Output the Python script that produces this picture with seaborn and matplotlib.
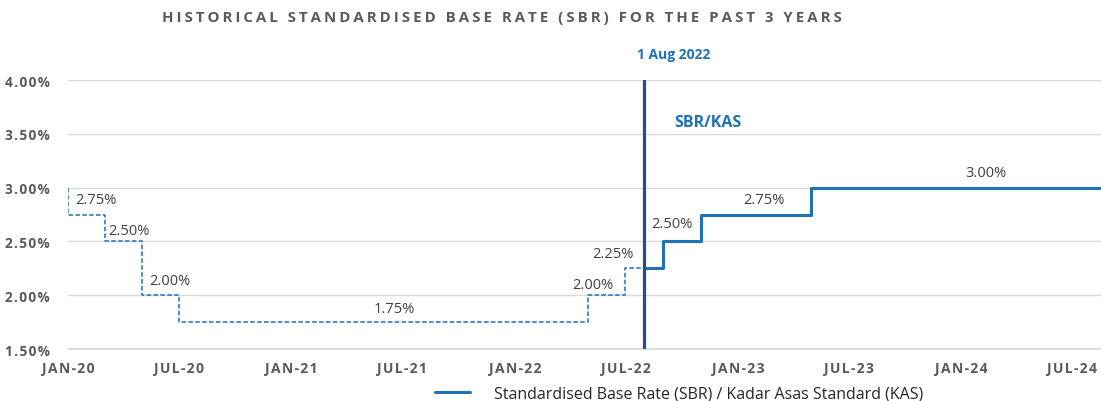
import matplotlib
matplotlib.use("Agg")
import matplotlib.pyplot as plt
import matplotlib.dates as mdates
from matplotlib.lines import Line2D
import seaborn as sns
import pandas as pd

# ---- data ----
hist_dates = ["2020-01-01", "2020-01-01", "2020-03-01", "2020-05-01", "2020-07-01",
              "2022-05-01", "2022-07-01", "2022-08-01"]
hist_rates = [3.00, 2.75, 2.50, 2.00, 1.75, 2.00, 2.25, 2.25]
sbr_dates = ["2022-08-01", "2022-09-01", "2022-11-01", "2023-05-01", "2024-08-17"]
sbr_rates = [2.25, 2.50, 2.75, 3.00, 3.00]
tick_dates = ["2020-01-01", "2020-07-01", "2021-01-01", "2021-07-01", "2022-01-01",
              "2022-07-01", "2023-01-01", "2023-07-01", "2024-01-01", "2024-07-01"]
tick_labels = ["JAN-20", "JUL-20", "JAN-21", "JUL-21", "JAN-22",
               "JUL-22", "JAN-23", "JUL-23", "JAN-24", "JUL-24"]
y_ticks = [1.5, 2.0, 2.5, 3.0, 3.5, 4.0]
rate_labels = ["2.75%", "2.50%", "2.00%", "1.75%", "2.00%", "2.25%", "2.50%", "2.75%", "3.00%"]
label_dates = ["2020-02-15", "2020-04-10", "2020-06-15", "2021-06-18", "2022-05-08",
               "2022-06-10", "2022-09-15", "2023-02-13", "2024-02-10"]
label_y = [2.894, 2.597, 2.132, 1.881, 2.104, 2.383, 2.662, 2.894, 3.136]
event_date = "2022-08-01"
event_label = "1 Aug 2022"
title = "HISTORICAL STANDARDISED BASE RATE (SBR) FOR THE PAST 3 YEARS"
legend_label = "Standardised Base Rate (SBR) / Kadar Asas Standard (KAS)"

sns.set_theme(style="white")
plt.rcParams["font.family"] = ["Open Sans", "DejaVu Sans"]

LINE_C = "#1f72b8"
VLINE_C = "#2c4a8e"
GREY = "#595959"
TXT = "#404040"


def spaced(s, sep="\u200a"):
    return sep.join(s)


hist = pd.DataFrame({"date": pd.to_datetime(hist_dates), "rate": hist_rates})
sbr = pd.DataFrame({"date": pd.to_datetime(sbr_dates), "rate": sbr_rates})

fig = plt.figure(figsize=(11.01, 4.02), dpi=100)
ax = fig.add_axes([68 / 1101, 1 - 350 / 402, 1 - 68 / 1101, (350 - 81) / 402])

sns.lineplot(data=hist, x="date", y="rate", ax=ax, estimator=None, sort=False,
             drawstyle="steps-post", color=LINE_C, linestyle=(0, (3, 1.5)), linewidth=1.1)
sns.lineplot(data=sbr, x="date", y="rate", ax=ax, estimator=None, sort=False,
             drawstyle="steps-post", color=LINE_C, linewidth=2.2)

ev = mdates.date2num(pd.Timestamp(event_date))
ax.axvline(ev, color=VLINE_C, linewidth=2.3, zorder=5)

ax.set_xlim(mdates.date2num(pd.Timestamp("2020-01-01")), mdates.date2num(pd.Timestamp("2024-08-17")))
ax.set_ylim(1.5, 4.0)
ax.set_yticks(y_ticks)
ax.set_yticklabels([spaced(f"{v:.2f}%") for v in y_ticks], fontsize=9.8, fontweight="bold", color=GREY)
ax.set_xticks([mdates.date2num(pd.Timestamp(d)) for d in tick_dates])
ax.set_xticklabels([spaced(t) for t in tick_labels], fontsize=10, fontweight="bold", color=GREY)
ax.tick_params(axis="x", length=5, color="#d9d9d9", pad=4)
ax.tick_params(axis="y", length=0, pad=13)
ax.grid(axis="y", color="#d9d9d9", linewidth=1)
ax.set_axisbelow(True)
for s in ["top", "right", "left"]:
    ax.spines[s].set_visible(False)
ax.spines["bottom"].set_color("#d9d9d9")
ax.set_xlabel("")
ax.set_ylabel("")

for lab, d, y in zip(rate_labels, label_dates, label_y):
    ax.text(mdates.date2num(pd.Timestamp(d)), y, lab, ha="center", va="center",
            fontsize=10.5, color=TXT)

ax.text(mdates.date2num(pd.Timestamp("2022-11-13")), 3.61, "SBR/KAS", ha="center", va="center",
        fontsize=11.5, fontweight="bold", color=LINE_C)
ax.text(mdates.date2num(pd.Timestamp("2022-09-18")), 4.24, event_label, ha="center", va="center",
        fontsize=10, fontweight="bold", color=LINE_C, clip_on=False)

fig.text(502 / 1101, 1 - 18 / 402, spaced(title, "\u2009"), ha="center", va="center",
         fontsize=10.8, fontweight="bold", color=GREY)

handle = Line2D([], [], color=LINE_C, linewidth=2.2)
fig.legend([handle], [legend_label], loc="center", bbox_to_anchor=(679 / 1101, 1 - 395 / 402),
           frameon=False, fontsize=11.5, handlelength=2.2, handletextpad=1.5,
           labelcolor="#262626")

fig.savefig("out.png", dpi=100)
